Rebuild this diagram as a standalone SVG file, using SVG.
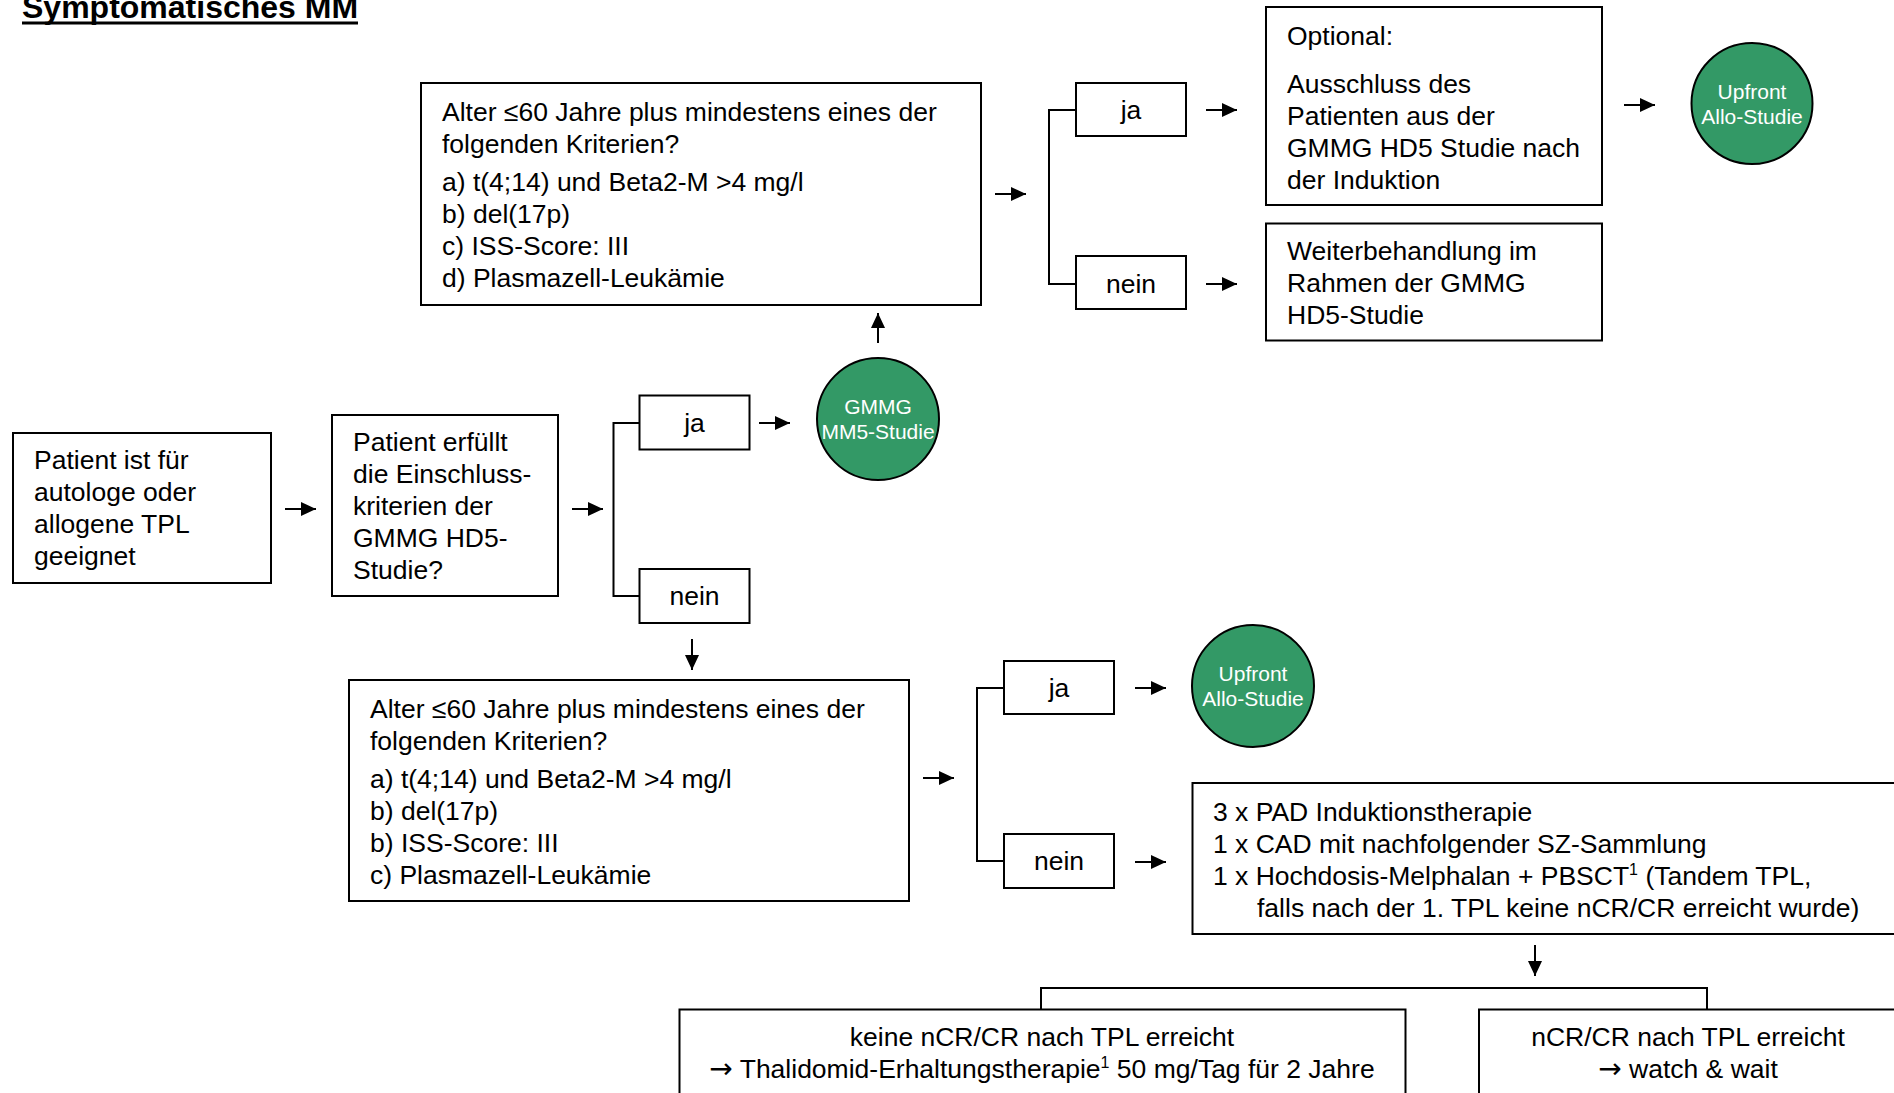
<svg xmlns="http://www.w3.org/2000/svg" width="1894" height="1093" viewBox="0 0 1894 1093">
<defs>
<style>
.box{fill:#fff;stroke:#000;stroke-width:2}
.circ{fill:#339966;stroke:#000;stroke-width:2}
.t{font-family:"Liberation Sans",Arial,sans-serif;font-size:26.5px;fill:#000}
.c{text-anchor:middle}
.ct{font-family:"Liberation Sans",Arial,sans-serif;font-size:21px;fill:#fff;text-anchor:middle}
.ln{stroke:#000;stroke-width:2;fill:none}
.ar{stroke:#000;stroke-width:2;fill:none;marker-end:url(#ah)}
.sup{font-size:16px}
.arw{font-family:"DejaVu Sans",sans-serif;font-size:28px}
</style>
<marker id="ah" markerUnits="userSpaceOnUse" markerWidth="16" markerHeight="16" refX="15" refY="7" orient="auto">
<path d="M0,0 L15,7 L0,14 z" fill="#000"/>
</marker>
</defs>
<rect width="1894" height="1093" fill="#fff"/>

<g id="title">
<text x="22" y="18" style="font-family:'Liberation Sans',Arial,sans-serif;font-size:32px;font-weight:bold">Symptomatisches MM</text>
<rect x="22" y="21.5" width="336" height="3" fill="#000"/>
</g>

<g id="connectors">
<path class="ln" d="M1076,110 H1049 V284 H1076"/>
<path class="ln" d="M639.5,423 H613.5 V596 H639.5"/>
<path class="ln" d="M1004,688 H977 V861 H1004"/>
<path class="ln" d="M1041,1009.5 V988 H1707 V1009.5"/>
<line class="ar" x1="995" y1="194" x2="1026" y2="194"/>
<line class="ar" x1="1206" y1="110" x2="1237" y2="110"/>
<line class="ar" x1="1206" y1="284" x2="1237" y2="284"/>
<line class="ar" x1="1624" y1="105" x2="1655" y2="105"/>
<line class="ar" x1="878" y1="343" x2="878" y2="313"/>
<line class="ar" x1="285" y1="509" x2="316" y2="509"/>
<line class="ar" x1="572" y1="509" x2="603" y2="509"/>
<line class="ar" x1="759" y1="423" x2="790" y2="423"/>
<line class="ar" x1="692" y1="639" x2="692" y2="670"/>
<line class="ar" x1="923" y1="778" x2="954" y2="778"/>
<line class="ar" x1="1135" y1="688" x2="1166" y2="688"/>
<line class="ar" x1="1135" y1="862" x2="1166" y2="862"/>
<line class="ar" x1="1535" y1="945" x2="1535" y2="976"/>
</g>

<g id="criteriaTop">
<rect class="box" x="421" y="83" width="560" height="222"/>
<text class="t" x="442" y="121">Alter ≤60 Jahre plus mindestens eines der</text>
<text class="t" x="442" y="153">folgenden Kriterien?</text>
<text class="t" x="442" y="191">a) t(4;14) und Beta2-M &gt;4 mg/l</text>
<text class="t" x="442" y="223">b) del(17p)</text>
<text class="t" x="442" y="255">c) ISS-Score: III</text>
<text class="t" x="442" y="287">d) Plasmazell-Leukämie</text>
</g>

<g id="jaTop">
<rect class="box" x="1076" y="83" width="110" height="53"/>
<text class="t c" x="1131" y="119">ja</text>
</g>
<g id="neinTop">
<rect class="box" x="1076" y="256" width="110" height="53"/>
<text class="t c" x="1131" y="293">nein</text>
</g>

<g id="optional">
<rect class="box" x="1266" y="7" width="336" height="198"/>
<text class="t" x="1287" y="45">Optional:</text>
<text class="t" x="1287" y="93">Ausschluss des</text>
<text class="t" x="1287" y="125">Patienten aus der</text>
<text class="t" x="1287" y="157">GMMG HD5 Studie nach</text>
<text class="t" x="1287" y="189">der Induktion</text>
</g>

<g id="weiter">
<rect class="box" x="1266" y="223.5" width="336" height="117"/>
<text class="t" x="1287" y="260">Weiterbehandlung im</text>
<text class="t" x="1287" y="292">Rahmen der GMMG</text>
<text class="t" x="1287" y="324">HD5-Studie</text>
</g>

<g id="alloTop">
<circle class="circ" cx="1752" cy="103.5" r="60.5"/>
<text class="ct" x="1752" y="98.5">Upfront</text>
<text class="ct" x="1752" y="123.5">Allo-Studie</text>
</g>

<g id="patient">
<rect class="box" x="13" y="433" width="258" height="150"/>
<text class="t" x="34" y="469">Patient ist für</text>
<text class="t" x="34" y="501">autologe oder</text>
<text class="t" x="34" y="533">allogene TPL</text>
<text class="t" x="34" y="565">geeignet</text>
</g>

<g id="einschluss">
<rect class="box" x="332" y="415" width="226" height="181"/>
<text class="t" x="353" y="451">Patient erfüllt</text>
<text class="t" x="353" y="483">die Einschluss-</text>
<text class="t" x="353" y="515">kriterien der</text>
<text class="t" x="353" y="547">GMMG HD5-</text>
<text class="t" x="353" y="579">Studie?</text>
</g>

<g id="jaMid">
<rect class="box" x="639.5" y="395.5" width="110" height="54"/>
<text class="t c" x="694.5" y="432">ja</text>
</g>
<g id="neinMid">
<rect class="box" x="639.5" y="569" width="110" height="54"/>
<text class="t c" x="694.5" y="605">nein</text>
</g>

<g id="mm5">
<circle class="circ" cx="878" cy="419" r="61"/>
<text class="ct" x="878" y="414">GMMG</text>
<text class="ct" x="878" y="439">MM5-Studie</text>
</g>

<g id="criteriaBottom">
<rect class="box" x="349" y="680" width="560" height="221"/>
<text class="t" x="370" y="718">Alter ≤60 Jahre plus mindestens eines der</text>
<text class="t" x="370" y="750">folgenden Kriterien?</text>
<text class="t" x="370" y="788">a) t(4;14) und Beta2-M &gt;4 mg/l</text>
<text class="t" x="370" y="820">b) del(17p)</text>
<text class="t" x="370" y="852">b) ISS-Score: III</text>
<text class="t" x="370" y="884">c) Plasmazell-Leukämie</text>
</g>

<g id="jaLow">
<rect class="box" x="1004" y="661" width="110" height="53"/>
<text class="t c" x="1059" y="697">ja</text>
</g>
<g id="neinLow">
<rect class="box" x="1004" y="834" width="110" height="54"/>
<text class="t c" x="1059" y="870">nein</text>
</g>

<g id="alloLow">
<circle class="circ" cx="1253" cy="686" r="61"/>
<text class="ct" x="1253" y="681">Upfront</text>
<text class="ct" x="1253" y="706">Allo-Studie</text>
</g>

<g id="therapie">
<rect class="box" x="1192.5" y="783" width="740" height="151"/>
<text class="t" x="1213" y="821">3 x PAD Induktionstherapie</text>
<text class="t" x="1213" y="853">1 x CAD mit nachfolgender SZ-Sammlung</text>
<text class="t" x="1213" y="885">1 x Hochdosis-Melphalan + PBSCT<tspan class="sup" dy="-10">1</tspan><tspan dy="10"> (Tandem TPL,</tspan></text>
<text class="t" x="1257" y="917">falls nach der 1. TPL keine nCR/CR erreicht wurde)</text>
</g>

<g id="keineCR">
<rect class="box" x="679.5" y="1009.5" width="726" height="120"/>
<text class="t c" x="1042" y="1046">keine nCR/CR nach TPL erreicht</text>
<text class="t c" x="1042" y="1078"><tspan class="arw">→</tspan> Thalidomid-Erhaltungstherapie<tspan class="sup" dy="-10">1</tspan><tspan dy="10"> 50 mg/Tag für 2 Jahre</tspan></text>
</g>

<g id="nCR">
<rect class="box" x="1479" y="1009.5" width="460" height="120"/>
<text class="t c" x="1688" y="1046">nCR/CR nach TPL erreicht</text>
<text class="t c" x="1688" y="1078"><tspan class="arw">→</tspan> watch &amp; wait</text>
</g>
</svg>
